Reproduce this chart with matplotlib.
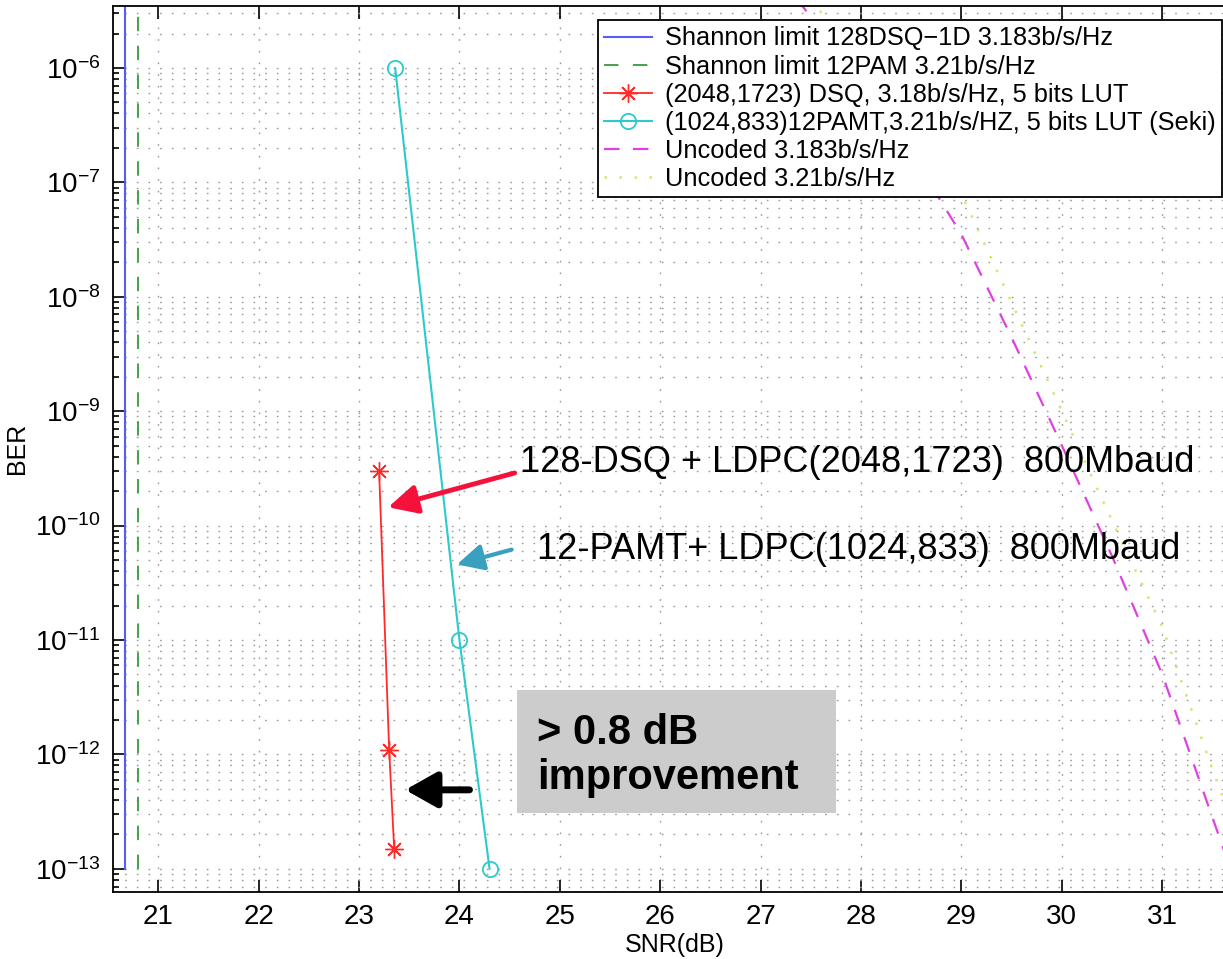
import numpy as np
import matplotlib
matplotlib.use("Agg")
import matplotlib.pyplot as plt
import matplotlib.patches as mpatches
from matplotlib.ticker import NullFormatter

plt.rcParams['font.family'] = ['Liberation Sans', 'DejaVu Sans']
plt.rcParams['mathtext.fontset'] = 'custom'
plt.rcParams['mathtext.rm'] = 'Liberation Sans'
plt.rcParams['mathtext.it'] = 'Liberation Sans:italic'
plt.rcParams['mathtext.bf'] = 'Liberation Sans:bold'

# Shannon limits (dB)
shannon_dsq = 20.668
shannon_pam = 20.795
shannon_ber = [1e-13, 1e-5]

# coded results
snr_dsq = [23.2, 23.3, 23.35]
ber_dsq = [3e-10, 1.1e-12, 1.5e-13]
snr_pamt = [23.36, 24.0, 24.3]
ber_pamt = [1e-6, 1e-11, 1e-13]

# uncoded curves
snr_unc = [27.0, 27.5, 28.0, 28.5, 29.0, 29.5, 30.0, 30.5, 31.0, 31.5, 32.0]
ber_unc_dsq = [1.0e-5, 2.8e-6, 7.1e-7, 1.8e-7, 3.5e-8, 4.4e-9, 5.0e-10,
               5.4e-11, 5.0e-12, 2.8e-13, 1.6e-14]
ber_unc_pam = [1.4e-5, 4.0e-6, 1.1e-6, 3.2e-7, 7.9e-8, 8.9e-9, 1.0e-9,
               1.1e-10, 1.3e-11, 7.4e-13, 5.0e-14]

ber_ticks = [1e-13, 1e-12, 1e-11, 1e-10, 1e-9, 1e-8, 1e-7, 1e-6]

labels = ['Shannon limit 128DSQ\u22121D 3.183b/s/Hz',
          'Shannon limit 12PAM 3.21b/s/Hz',
          '(2048,1723) DSQ, 3.18b/s/Hz, 5 bits LUT',
          '(1024,833)12PAMT,3.21b/s/HZ, 5 bits LUT (Seki)',
          'Uncoded 3.183b/s/Hz',
          'Uncoded 3.21b/s/Hz']

fig = plt.figure(figsize=(12.23, 9.59), dpi=100)
ax = fig.add_axes([0.0921, 0.0702, 0.919, 0.9236])
ax.set_yscale('log')

ax.plot([shannon_dsq, shannon_dsq], shannon_ber, color='#5a5af5', lw=1.5,
        label=labels[0])
ax.plot([shannon_pam, shannon_pam], shannon_ber, color='#3a9a3a', lw=1.3,
        dashes=(8, 8), label=labels[1])
ax.plot(snr_dsq, ber_dsq, color='#ff2a2a', lw=1.3, marker=(8, 2, 0),
        ms=13, mew=1.0, label=labels[2])
ax.plot(snr_pamt, ber_pamt, color='#2ccaca', lw=1.5, marker='o', ms=11,
        mfc='none', mew=1.3, label=labels[3])
ax.plot(snr_unc, ber_unc_dsq, color='#e040e0', lw=1.6, dashes=(7, 6),
        label=labels[4])
ax.plot(snr_unc, ber_unc_pam, color='#e0e070', lw=1.8, dashes=(1, 5),
        label=labels[5])

ax.set_xlim(20.546, 31.74)
ax.set_ylim(10**-13.2, 10**-5.458)
ax.set_xticks(range(21, 32))
ax.set_yticks(ber_ticks)
ax.yaxis.set_minor_formatter(NullFormatter())

# matlab style dotted grid
ax.grid(True, which='major', axis='x', color='0.6', lw=1.0,
        linestyle=(0, (1.2, 7.2)))
ax.grid(True, which='both', axis='y', color='0.6', lw=1.0,
        linestyle=(0, (1.2, 7.2)))
ax.set_axisbelow(True)

ax.tick_params(which='both', direction='in', top=True, right=True,
               labelsize=20, width=1.2)
ax.tick_params(which='major', length=9, pad=9)
ax.tick_params(which='minor', length=4)
ax.tick_params(axis='x', which='minor', bottom=False, top=False)
for sp in ax.spines.values():
    sp.set_linewidth(1.3)

ax.set_xlabel('SNR(dB)', fontsize=18, labelpad=2)
ax.set_ylabel('BER', fontsize=18, labelpad=4)

leg = ax.legend(loc='upper right', bbox_to_anchor=(0.9992, 0.979),
                bbox_transform=fig.transFigure, fontsize=18.3,
                labelspacing=0.16, borderpad=0.25, borderaxespad=0,
                handlelength=1.9, handletextpad=0.5, fancybox=False,
                framealpha=1)
leg.get_frame().set_edgecolor('black')
leg.get_frame().set_linewidth(1.3)

# annotations
ax.text(24.60, 10**-9.45, '128-DSQ + LDPC(2048,1723)  800Mbaud', fontsize=26,
        va='center', ha='left')
ax.text(24.77, 10**-10.21, '12-PAMT+ LDPC(1024,833)  800Mbaud', fontsize=26,
        va='center', ha='left')
ax.annotate('', xy=(23.29, 10**-9.84), xytext=(24.55, 10**-9.54),
            arrowprops=dict(arrowstyle='-|>,head_length=0.8,head_width=0.4',
                            color='#f5123a', lw=3.5, mutation_scale=22,
                            shrinkA=0, shrinkB=0))
ax.annotate('', xy=(23.975, 10**-10.34), xytext=(24.52, 10**-10.21),
            arrowprops=dict(arrowstyle='-|>,head_length=0.8,head_width=0.4',
                            color='#3aa0c0', lw=3.0, mutation_scale=20,
                            shrinkA=0, shrinkB=0))
ax.annotate('', xy=(23.46, 10**-12.31), xytext=(24.10, 10**-12.31),
            arrowprops=dict(arrowstyle='-|>,head_length=0.8,head_width=0.45',
                            color='black', lw=5, mutation_scale=24,
                            shrinkA=0, shrinkB=0))

box = mpatches.Rectangle((24.57, 10**-12.51), 27.75 - 24.57,
                         10**-11.44 - 10**-12.51, facecolor='#cccccc',
                         edgecolor='none', zorder=3)
ax.add_patch(box)
ax.text(24.77, 10**-12.01, '> 0.8 dB\nimprovement', fontsize=30,
        fontweight='bold', va='center', ha='left', linespacing=1.15, zorder=4)

fig.savefig('out.png', dpi=100)
